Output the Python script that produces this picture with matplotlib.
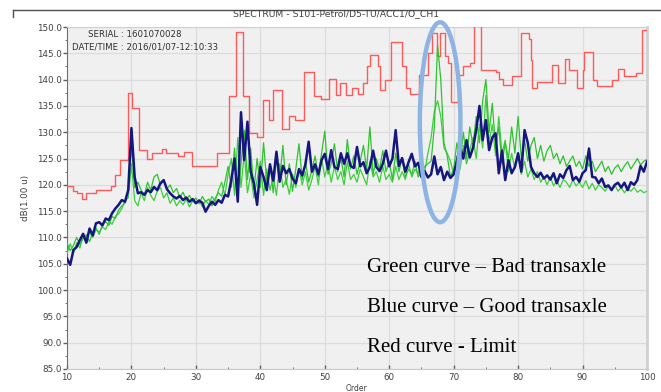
import numpy as np
import matplotlib
matplotlib.use("Agg")
import matplotlib.pyplot as plt
from matplotlib.patches import Ellipse
from matplotlib.lines import Line2D
from matplotlib.ticker import MultipleLocator, FormatStrFormatter

# ---------------------------------------------------------------------------
# spectrum data, order axis sampled every 0.5 from 10 to 100
# ---------------------------------------------------------------------------
ORDER = np.arange(10, 100.5, 0.5)

BLUE = [
    106.0, 104.8, 107.6, 108.2, 109.5, 110.7, 109.0, 111.7, 110.4, 112.7,
    112.9, 112.3, 113.6, 113.3, 114.6, 115.5, 116.2, 117.1, 116.8, 119.0,
    130.8, 121.5, 118.4, 118.6, 118.1, 119.0, 118.6, 119.6, 119.0, 120.3,
    120.9, 119.2, 118.4, 117.8, 117.4, 117.9, 117.1, 117.6, 116.8, 117.3,
    116.5, 117.0, 116.6, 114.9, 116.0, 116.8, 116.2, 117.1, 116.6, 118.1,
    117.8, 121.0, 125.0, 116.8, 133.8, 124.7, 132.0, 122.5, 120.3, 116.2,
    123.4, 121.5, 119.0, 123.9, 120.8, 126.3, 120.6, 123.6, 122.2, 123.0,
    121.2, 120.3, 123.0, 121.8, 123.9, 128.2, 122.5, 123.9, 122.0, 124.7,
    125.9, 123.0, 126.6, 123.4, 123.0, 126.0, 124.0, 126.0, 123.6, 123.2,
    127.2, 123.5, 124.3, 122.2, 123.4, 126.5, 123.4, 122.6, 124.0, 126.5,
    123.5, 125.0, 130.4, 123.6, 125.1, 122.5, 124.3, 125.9, 123.5, 124.2,
    121.5, 122.6, 121.4, 122.0, 125.4, 122.0, 123.4, 120.9, 122.5, 121.3,
    122.0, 124.5, 127.2, 125.0, 128.5, 125.2, 127.0, 130.4, 135.0, 128.5,
    132.3, 126.6, 129.0, 129.8, 122.2, 126.5, 120.9, 124.7, 122.2, 123.4,
    126.0, 122.5, 130.4, 128.0, 123.4, 122.2, 121.5, 122.3, 121.2, 121.8,
    121.0, 122.2, 120.3, 122.0, 121.3, 122.8, 123.6, 120.9, 121.5, 120.6,
    122.2, 122.8, 126.9, 121.5, 121.4, 120.3, 121.2, 119.6, 119.9, 119.0,
    120.0, 120.4, 119.5, 120.4, 119.0, 120.5, 120.0, 120.9, 123.6, 122.5,
    124.4,
]

GREEN_1 = [
    108.9, 107.5, 108.5, 110.0, 108.6, 109.8, 110.5, 109.2, 111.0, 111.8,
    110.6, 112.5, 113.0, 112.3, 114.0, 113.6, 115.2, 116.0, 116.5, 118.8,
    127.5, 119.5, 120.5, 119.0, 118.0, 120.5, 119.0, 121.5, 122.0, 120.0,
    121.0, 119.2, 120.0, 118.5, 119.3, 117.6, 118.6, 117.2, 118.0, 116.8,
    117.5, 116.4, 117.8, 116.8, 117.3, 116.0, 117.5, 118.5, 117.8, 120.5,
    123.5, 119.5, 127.0, 118.0, 124.0, 130.4, 121.0, 127.0, 119.0, 125.0,
    119.5, 128.0, 120.5, 124.0, 118.5, 125.0, 121.0, 127.5, 120.0, 124.0,
    118.8, 123.0, 127.8, 121.0, 124.5, 120.5, 122.8, 125.5, 121.5, 126.0,
    130.2, 122.0, 124.0, 127.8, 122.5, 125.0, 121.5, 128.6, 123.0, 125.5,
    122.0, 124.5, 127.5, 123.0, 131.0, 122.0, 125.0, 123.0, 126.5, 122.5,
    124.5, 121.0, 126.0, 122.5, 125.0, 121.5, 123.0, 122.0, 124.5, 121.5,
    122.5, 123.5, 124.0, 124.5, 131.0, 146.5, 140.0, 128.0, 125.5, 121.5,
    123.0, 128.0, 124.5, 130.0, 125.0, 131.0, 127.5, 133.0, 128.0, 136.0,
    140.0, 130.0, 135.5, 127.0, 131.0, 124.0, 128.0, 125.0, 131.0, 126.0,
    133.0, 125.0, 128.5, 124.5, 127.5, 129.0, 125.0, 127.5, 124.5, 126.5,
    127.5, 125.0, 126.0, 124.0, 125.5, 123.5, 124.5, 125.5, 123.5, 124.5,
    123.0, 125.5, 123.5, 124.5, 122.5, 123.5, 124.5, 122.5, 123.5, 122.0,
    123.2, 123.8, 122.5, 123.6, 124.4, 123.0, 124.0, 125.0, 123.8, 124.5,
    124.8,
]

GREEN_2 = [
    107.0, 108.8, 107.0, 109.0, 108.0, 110.5, 109.5, 111.0, 110.0, 111.5,
    111.0, 112.0, 111.5, 113.0, 112.5, 114.0, 114.5, 115.5, 117.0, 117.5,
    124.0, 117.0, 116.0, 118.5, 117.0, 119.5, 118.0, 117.0, 118.8, 119.5,
    117.5, 118.5, 116.5, 117.5, 116.0, 117.0, 116.2, 117.3, 115.8, 117.0,
    116.5, 117.2, 115.8, 117.0, 116.3, 117.8, 116.8, 119.0, 120.5, 118.0,
    122.0, 125.0, 118.0, 129.0, 119.5, 126.0, 118.5, 122.0, 117.5, 121.0,
    124.5, 118.0, 123.0, 119.0, 121.5, 118.0, 124.0, 119.5, 121.0, 118.2,
    122.0, 119.5, 123.0, 120.0, 122.5, 119.0, 121.0, 123.5, 120.0, 125.0,
    121.5, 124.0, 120.5, 123.5, 121.0, 122.5, 120.0, 124.5, 121.0, 122.0,
    120.5, 123.0, 121.5, 120.0, 124.5, 121.5, 122.5, 120.5, 123.5, 121.0,
    122.0, 120.5, 123.5, 121.0, 122.5, 121.0, 124.0, 121.5, 123.0, 122.0,
    124.5, 122.5, 126.0, 129.0, 134.0, 136.0, 133.0, 127.0, 126.0, 124.5,
    122.0, 125.5, 123.0, 127.5, 124.0, 126.5, 129.0, 125.0, 131.5, 127.0,
    137.0, 128.0, 131.5, 125.5, 133.0, 126.0, 128.5, 122.5, 126.0, 123.0,
    125.5, 122.0, 124.5, 121.5, 123.0, 121.0, 122.5, 120.5, 121.5, 120.0,
    121.5, 119.8, 120.8, 119.5, 121.0, 120.5, 119.5, 121.0, 119.8, 120.5,
    119.5, 120.8, 119.2, 120.3, 119.0, 120.0, 119.5, 118.8, 119.8, 119.0,
    120.0, 118.8, 119.5, 118.5, 119.3, 118.8, 119.5, 118.6, 119.0, 118.5,
    118.8,
]

# limit curve: step start order and level
LIMIT_X = [10.0, 11.0, 11.5, 12.3, 13.0, 14.5, 16.9, 17.4, 18.2, 19.4,
           20.1, 21.1, 22.4, 23.2, 24.8, 25.4, 27.2, 28.2, 29.4, 33.3,
           35.2, 36.3, 37.3, 38.2, 39.5, 40.4, 41.3, 42.0, 43.3, 44.5,
           45.4, 46.8, 48.3, 49.4, 50.7, 51.8, 52.3, 53.3, 54.2, 55.1,
           56.0, 56.5, 57.0, 58.2, 58.5, 59.3, 60.3, 62.0, 62.6, 63.2,
           64.6, 66.0, 66.7, 67.4, 67.9, 68.6, 69.1, 69.6, 70.6, 71.4,
           72.6, 73.2, 74.3, 76.5, 77.1, 77.6, 79.0, 80.4, 81.7, 82.0,
           82.2, 83.0, 85.3, 86.2, 87.2, 87.9, 89.2, 90.0, 90.3, 91.6,
           92.3, 94.6, 95.5, 96.5, 98.3, 99.3, 100.0]
LIMIT_Y = [119.8, 118.8, 118.4, 117.4, 118.4, 119.0, 119.8, 121.9, 124.7, 137.4,
           134.7, 126.6, 125.0, 126.0, 126.9, 126.0, 125.4, 126.3, 123.6, 126.0,
           136.8, 149.1, 136.8, 129.8, 129.0, 136.1, 132.3, 138.0, 130.7, 133.0,
           132.3, 141.5, 136.8, 136.3, 140.2, 137.0, 139.3, 137.0, 138.5, 137.3,
           139.3, 142.5, 144.7, 142.5, 138.0, 139.9, 147.2, 142.5, 138.4, 137.3,
           140.9, 145.0, 148.8, 144.4, 148.8, 144.4, 143.1, 135.8, 140.9, 142.5,
           143.1, 151.0, 141.8, 141.5, 140.2, 139.0, 140.6, 148.8, 147.8, 143.7,
           138.4, 139.6, 142.8, 139.3, 144.0, 141.8, 138.4, 141.8, 145.3, 139.9,
           138.7, 139.9, 142.1, 140.6, 141.2, 149.4, 149.4]

NOTES = ["Green curve \u2013 Bad transaxle",
         "Blue curve \u2013 Good transaxle",
         "Red curve - Limit"]

fig = plt.figure(figsize=(6.61, 3.92), dpi=100)
ax = fig.add_axes([67 / 661, 1 - 369 / 392, 580 / 661, 342 / 392])
ax.set_facecolor("#f0f0f0")

ax.plot(LIMIT_X, LIMIT_Y, color="#ff5a5a", lw=1.0, drawstyle="steps-post", zorder=3)
ax.plot(ORDER, GREEN_2, color="#3ccf3c", lw=0.9, zorder=4)
ax.plot(ORDER, GREEN_1, color="#2fc22f", lw=0.9, zorder=4)
ax.plot(ORDER, BLUE, color="#161680", lw=1.8, zorder=5)

ax.add_patch(Ellipse((67.9, 131.9), 6.3, 38.0, fill=False, clip_on=False,
                     edgecolor="#8db4e2", lw=3.2, zorder=6))

ax.set_xlim(10, 100)
ax.set_ylim(85, 150)
ax.xaxis.set_major_locator(MultipleLocator(10))
ax.xaxis.set_minor_locator(MultipleLocator(5))
ax.yaxis.set_major_locator(MultipleLocator(5))
ax.yaxis.set_minor_locator(MultipleLocator(2.5))
ax.yaxis.set_major_formatter(FormatStrFormatter("%.1f"))
ax.grid(True, which="major", color="#dcdcdc", lw=0.9, zorder=0)
ax.set_axisbelow(True)
ax.tick_params(axis="y", which="major", direction="out", length=3, width=1,
               labelsize=6.3, labelcolor="#404040", color="#606060", pad=0.5)
ax.tick_params(axis="y", which="minor", direction="out", length=1.5, color="#606060")
ax.tick_params(axis="x", which="major", direction="in", length=3, width=1,
               labelsize=6.3, labelcolor="#404040", color="#606060", pad=3)
ax.tick_params(axis="x", which="minor", direction="in", length=1.5, color="#606060")
ax.spines["left"].set_color("#707070")
ax.spines["bottom"].set_color("#c8c8c8")
ax.spines["top"].set_color("#d0d0d0")
ax.spines["right"].set_color("#d0d0d0")
ax.spines["right"].set_linewidth(2)
ax.set_xlabel("Order", fontsize=5.5, color="#404040", labelpad=1)
ax.set_ylabel("dB(1.00 u)", fontsize=6.3, color="#404040", labelpad=5)

ax.text(0.036, 0.977, "SERIAL : 1601070028", transform=ax.transAxes,
        fontsize=6.2, color="#303030", ha="left", va="center")
ax.text(0.008, 0.942, "DATE/TIME : 2016/01/07-12:10:33", transform=ax.transAxes,
        fontsize=6.2, color="#303030", ha="left", va="center")

for i, note in enumerate(NOTES):
    fig.text(367 / 661, 1 - (268 + 40 * i) / 392, note, family="Liberation Serif",
             fontsize=15, color="black", ha="left", va="center")

fig.text(336 / 661, 1 - 14 / 392, "SPECTRUM - S101-Petrol/D5-TU/ACC1/O_CH1",
         fontsize=6.7, color="#404040", ha="center", va="center")
y0 = 1 - 10 / 392
fig.add_artist(Line2D([13 / 661, 1], [y0, y0], color="#505050", lw=1))
fig.add_artist(Line2D([13 / 661, 13 / 661], [y0, 1 - 17 / 392], color="#505050", lw=1))

fig.savefig("out.png", dpi=100)
